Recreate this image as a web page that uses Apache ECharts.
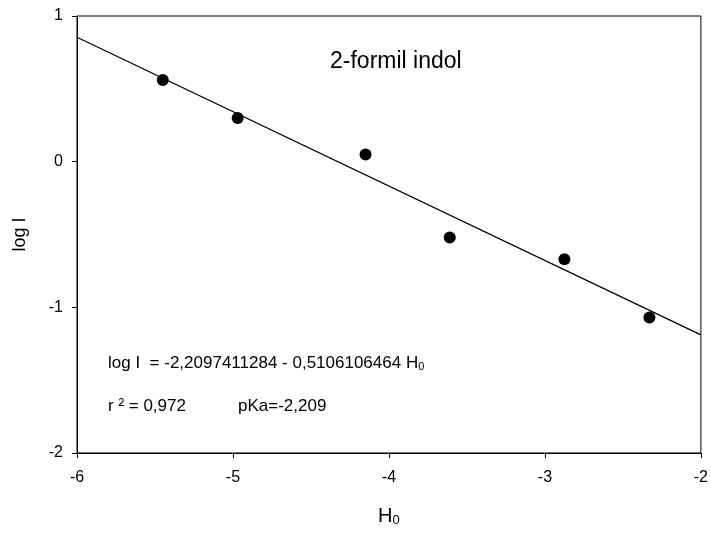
<!DOCTYPE html>
<html>
<head>
<meta charset="utf-8">
<script src="https://cdn.jsdelivr.net/npm/echarts@6/dist/echarts.min.js"></script>
<style>
html, body { margin: 0; width: 100%; height: 100%; background: #fff; }
#chart { width: 711px; height: 537px; }
</style>
</head>
<body>
<div id="chart"></div>
<script>
// measured points (H0, log I)
const h0Values = [-5.45, -4.97, -4.15, -3.61, -2.875, -2.33];
const logIValues = [0.56, 0.30, 0.05, -0.52, -0.67, -1.07];
// regression line end points
const fitX = [-6, -2];
const fitY = [0.854, -1.189];

const font = 'Liberation Sans, Arial, sans-serif';
const chart = echarts.init(document.getElementById('chart'));

chart.setOption({
    animation: false,
    backgroundColor: '#fff',
    grid: {
        left: 77,
        right: 7,
        top: 16,
        bottom: 84,
        show: true,
        borderColor: '#000',
        borderWidth: 1,
    },
    xAxis: {
        type: 'value',
        min: -6,
        max: -2,
        interval: 1,
        name: 'H{sub|0}',
        nameLocation: 'middle',
        nameGap: 52,
        nameTextStyle: {
            color: '#000',
            fontSize: 20,
            fontFamily: font,
            rich: {
                sub: { fontSize: 13, verticalAlign: 'bottom', padding: [9, 0, 0, 0], fontFamily: font },
            },
        },
        axisLine: { onZero: false, lineStyle: { color: '#000' } },
        axisTick: { length: 5, lineStyle: { color: '#000' } },
        axisLabel: { color: '#000', fontSize: 16, fontFamily: font, margin: 17 },
        splitLine: { show: false },
    },
    yAxis: {
        type: 'value',
        min: -2,
        max: 1,
        interval: 1,
        name: 'log I',
        nameLocation: 'middle',
        nameGap: 48,
        nameTextStyle: { color: '#000', fontSize: 18, fontFamily: font },
        axisLine: { onZero: false, lineStyle: { color: '#000' } },
        axisTick: { length: 5, lineStyle: { color: '#000' } },
        axisLabel: { color: '#000', fontSize: 16, fontFamily: font, margin: 14 },
        splitLine: { show: false },
    },
    series: [
        {
            type: 'line',
            data: fitX.map((x, i) => [x, fitY[i]]),
            showSymbol: false,
            lineStyle: { color: '#000', width: 1.3 },
            z: 2,
        },
        {
            type: 'scatter',
            data: h0Values.map((x, i) => [x, logIValues[i]]),
            symbolSize: 12,
            itemStyle: { color: '#000', opacity: 1 },
            z: 3,
        },
    ],
    graphic: [
        {
            type: 'text',
            left: 330,
            top: 50,
            style: { text: '2-formil indol', fontSize: 23, fontFamily: font, fill: '#000' },
        },
        {
            type: 'text',
            left: 108,
            top: 355,
            style: {
                text: 'log I  = -2,2097411284 - 0,5106106464 H{sub|0}',
                fontSize: 17,
                fontFamily: font,
                fill: '#000',
                rich: {
                    sub: { fontSize: 11, fontFamily: font, padding: [7, 0, 0, 0], fill: '#000' },
                },
            },
        },
        {
            type: 'text',
            left: 108,
            top: 398,
            style: { text: 'r ² = 0,972', fontSize: 17, fontFamily: font, fill: '#000' },
        },
        {
            type: 'text',
            left: 238,
            top: 398,
            style: { text: 'pKa=-2,209', fontSize: 17, fontFamily: font, fill: '#000' },
        },
    ],
});
</script>
</body>
</html>
